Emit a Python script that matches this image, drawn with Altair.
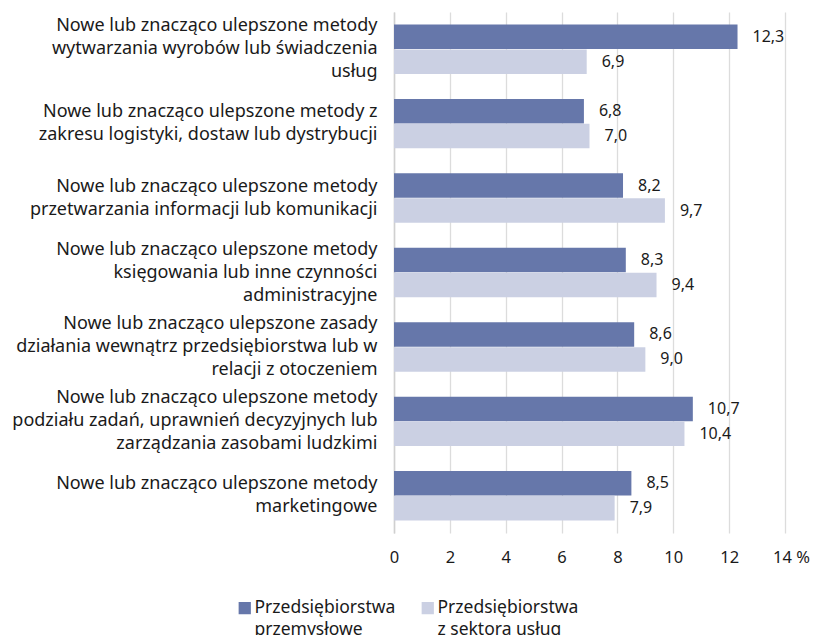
import altair as alt
import pandas as pd

categories = [
    "Nowe lub znacząco ulepszone metody\nwytwarzania  wyrobów lub świadczenia\nusług",
    "Nowe lub znacząco ulepszone metody z\nzakresu logistyki, dostaw lub dystrybucji",
    "Nowe lub znacząco ulepszone metody\nprzetwarzania informacji lub komunikacji",
    "Nowe lub znacząco ulepszone metody\nksięgowania lub inne czynności\nadministracyjne",
    "Nowe lub znacząco ulepszone zasady\ndziałania wewnątrz przedsiębiorstwa lub w\nrelacji z otoczeniem",
    "Nowe lub znacząco ulepszone metody\npodziału zadań, uprawnień decyzyjnych lub\nzarządzania zasobami ludzkimi",
    "Nowe lub znacząco ulepszone metody\nmarketingowe",
]
series = ["Przedsiębiorstwa\nprzemysłowe", "Przedsiębiorstwa\nz sektora usług"]
industry = [12.3, 6.8, 8.2, 8.3, 8.6, 10.7, 8.5]
services = [6.9, 7.0, 9.7, 9.4, 9.0, 10.4, 7.9]
colors = ["#6677aa", "#cbd0e3"]

rows = []
for i, c in enumerate(categories):
    rows.append({"cat": c, "series": series[0], "value": industry[i]})
    rows.append({"cat": c, "series": series[1], "value": services[i]})
df = pd.DataFrame(rows)
df["label"] = df["value"].map(lambda v: f"{v:.1f}".replace(".", ","))

FONT = "Noto Sans"

y_enc = alt.Y(
    "cat:N",
    sort=categories,
    title=None,
    scale=alt.Scale(paddingInner=0.33, paddingOuter=0.165),
    axis=alt.Axis(
        labelExpr="split(datum.label, '\\n')",
        labelFontSize=18,
        labelLineHeight=23,
        labelLimit=400,
        labelPadding=17,
        labelColor="#1a1a1a",
        labelOffset={
            "condition": {"test": "length(split(datum.value, '\\n')) >= 3", "value": -23},
            "value": -11.5,
        },
        ticks=False,
        domain=True,
        domainColor="#d0d0d0",
        domainWidth=1.5,
        grid=False,
    ),
)
yoff = alt.YOffset("series:N", sort=series)

x_enc = alt.X(
    "value:Q",
    title=None,
    scale=alt.Scale(domain=[0, 14]),
    axis=alt.Axis(
        values=[0, 2, 4, 6, 8, 10, 12, 14],
        labelExpr="datum.value == 14 ? '14\u00a0%' : datum.label",
        labelOffset={"condition": {"test": "datum.value == 14", "value": 6}, "value": 0},
        labelFlush=False,
        labelFontSize=16.5,
        labelColor="#1a1a1a",
        labelPadding=16,
        ticks=False,
        domain=False,
        grid=True,
        gridColor="#dcdcdc",
        gridWidth=1.3,
    ),
)

base = alt.Chart(df)

bars = base.mark_bar(size=24.5).encode(
    x=x_enc,
    y=y_enc,
    yOffset=yoff,
    color=alt.Color(
        "series:N",
        sort=series,
        scale=alt.Scale(domain=series, range=colors),
        legend=alt.Legend(
            title=None,
            orient="none",
            legendX=-158,
            legendY=587,
            direction="horizontal",
            columns=2,
            columnPadding=23,
            symbolType="square",
            symbolSize=150,
            symbolStrokeWidth=0,
            labelExpr="split(datum.label, '\\n')",
            labelFontSize=17.5,
            labelColor="#1a1a1a",
            labelOffset=1,
            labelBaseline="middle",
            labelLimit=300,
        ),
    ),
)

text = base.mark_text(align="left", baseline="middle", dx=15, fontSize=16, color="#1a1a1a", font=FONT).encode(
    x="value:Q",
    y=alt.Y("cat:N", sort=categories),
    yOffset=yoff,
    text="label:N",
)

chart = (
    alt.layer(bars, text)
    .properties(
        width=391,
        height=521,
        padding={"left": 386, "top": 4, "right": 25, "bottom": 102},
        autosize=alt.AutoSizeParams(type="none"),
    )
    .configure(font=FONT, style={"guide-label": {"lineHeight": 22}})
    .configure_view(stroke=None)
)

chart.save("out.html", embed_options={"renderer": "svg", "actions": False})
